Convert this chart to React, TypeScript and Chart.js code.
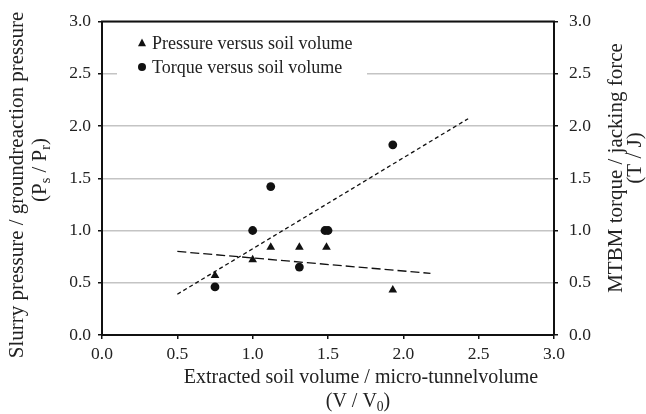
import React, { useEffect, useRef } from "react";
import { Chart, registerables } from "chart.js";

Chart.register(...registerables);

const pressureX = [0.75, 1.0, 1.12, 1.31, 1.49, 1.93];
const pressureY = [0.57, 0.72, 0.84, 0.84, 0.84, 0.43];
const torqueX = [0.75, 1.0, 1.12, 1.31, 1.48, 1.5, 1.93];
const torqueY = [0.46, 1.0, 1.42, 0.65, 1.0, 1.0, 1.82];
const torqueTrendX = [0.5, 2.43];
const torqueTrendY = [0.39, 2.07];
const pressureTrendX = [0.5, 2.18];
const pressureTrendY = [0.8, 0.59];
const axisMin = 0;
const axisMax = 3;
const axisStep = 0.5;
const legendLabels = ["Pressure versus soil volume", "Torque versus soil volume"];

const FONT = "'Liberation Serif', 'DejaVu Serif', serif";
const TEXT = "#222";

type Seg = { t: string; sub?: boolean };

function drawSegs(ctx: CanvasRenderingContext2D, segs: Seg[], size: number, sx: number) {
  const subSize = size * 0.68;
  const widths = segs.map((s) => {
    ctx.font = `${s.sub ? subSize : size}px ${FONT}`;
    return ctx.measureText(s.t).width;
  });
  const total = widths.reduce((a, b) => a + b, 0);
  ctx.scale(sx, 1);
  let x = -total / 2;
  ctx.textBaseline = "middle";
  ctx.textAlign = "left";
  segs.forEach((s, i) => {
    ctx.font = `${s.sub ? subSize : size}px ${FONT}`;
    ctx.fillText(s.t, x, s.sub ? size * 0.28 : 0);
    x += widths[i];
  });
}

function drawText(ctx: CanvasRenderingContext2D, segs: Seg[], cx: number, cy: number, rot: number, size: number, sx = 1) {
  ctx.save();
  ctx.translate(cx, cy);
  ctx.rotate(rot);
  ctx.fillStyle = TEXT;
  drawSegs(ctx, segs, size, sx);
  ctx.restore();
}

const decorPlugin = {
  id: "decor",
  afterDraw(chart: any) {
    const { ctx, chartArea } = chart;
    const a = chartArea;
    ctx.save();
    // top border
    ctx.strokeStyle = "#111";
    ctx.lineWidth = 2;
    ctx.beginPath();
    ctx.moveTo(a.left - 1, a.top);
    ctx.lineTo(a.right + 1, a.top);
    ctx.stroke();

    // legend
    ctx.fillStyle = "#fff";
    ctx.fillRect(117, 30, 250, 50);
    ctx.fillStyle = "#111";
    const tx = 142, ty = 43;
    ctx.beginPath();
    ctx.moveTo(tx, ty - 4.5);
    ctx.lineTo(tx + 4, ty + 3.2);
    ctx.lineTo(tx - 4, ty + 3.2);
    ctx.closePath();
    ctx.fill();
    ctx.beginPath();
    ctx.arc(142, 67, 4, 0, Math.PI * 2);
    ctx.fill();
    ctx.fillStyle = TEXT;
    ctx.font = `18px ${FONT}`;
    ctx.textBaseline = "middle";
    ctx.textAlign = "left";
    ctx.fillText(legendLabels[0], 152, 44);
    ctx.fillText(legendLabels[1], 152, 68);

    // axis titles
    drawText(ctx, [{ t: "Slurry pressure / groundreaction pressure" }], 17, 185, -Math.PI / 2, 21);
    drawText(ctx, [{ t: "(P" }, { t: "s", sub: true }, { t: " / P" }, { t: "r", sub: true }, { t: ")" }], 40, 170, -Math.PI / 2, 21);
    drawText(ctx, [{ t: "MTBM torque / jacking force" }], 616, 168, -Math.PI / 2, 21);
    drawText(ctx, [{ t: "(T / J)" }], 635, 158, -Math.PI / 2, 21);
    drawText(ctx, [{ t: "Extracted soil volume / micro-tunnelvolume" }], 361, 378, 0, 20);
    drawText(ctx, [{ t: "(V / V" }, { t: "0", sub: true }, { t: ")" }], 358, 402, 0, 20);
    ctx.restore();
  },
};

export default function App() {
  const ref = useRef<HTMLCanvasElement>(null);
  useEffect(() => {
    if (!ref.current) return;
    const tickFont = { family: FONT, size: 17.5 };
    const fmt = (v: any) => Number(v).toFixed(1);
    const chart = new Chart(ref.current, {
      type: "scatter",
      data: {
        datasets: [
          {
            label: legendLabels[0],
            data: pressureX.map((x, i) => ({ x, y: pressureY[i] })),
            pointStyle: "triangle",
            radius: 5,
            backgroundColor: "#111",
            borderColor: "#111",
            borderWidth: 0,
          },
          {
            label: legendLabels[1],
            data: torqueX.map((x, i) => ({ x, y: torqueY[i] })),
            pointStyle: "circle",
            radius: 4.4,
            backgroundColor: "#111",
            borderColor: "#111",
            borderWidth: 0,
          },
          {
            type: "line",
            label: "torque trend",
            data: torqueTrendX.map((x, i) => ({ x, y: torqueTrendY[i] })),
            borderColor: "#111",
            borderWidth: 1.3,
            borderDash: [4, 3],
            pointRadius: 0,
            showLine: true,
          } as any,
          {
            type: "line",
            label: "pressure trend",
            data: pressureTrendX.map((x, i) => ({ x, y: pressureTrendY[i] })),
            borderColor: "#111",
            borderWidth: 1.3,
            borderDash: [9, 4],
            pointRadius: 0,
            showLine: true,
          } as any,
        ],
      },
      options: {
        responsive: false,
        animation: false,
        layout: { padding: { top: 20, left: 0, right: 0, bottom: 0 } },
        plugins: { legend: { display: false }, tooltip: { enabled: false } },
        scales: {
          x: {
            type: "linear",
            min: axisMin,
            max: axisMax,
            ticks: { stepSize: axisStep, font: tickFont, color: TEXT, padding: 5, callback: fmt },
            grid: { drawOnChartArea: false, tickColor: "#111", tickLength: 4, lineWidth: 1.5 },
            border: { color: "#111", width: 2 },
            afterFit: (s: any) => { s.height = 79; },
          },
          y: {
            type: "linear",
            position: "left",
            min: axisMin,
            max: axisMax,
            ticks: { stepSize: axisStep, font: tickFont, color: TEXT, padding: 7, callback: fmt },
            grid: { color: "#c4c4c4", lineWidth: 1.5, tickColor: "#111", tickLength: 4 },
            border: { color: "#111", width: 2 },
            afterFit: (s: any) => { s.width = 102; },
          },
          y2: {
            type: "linear",
            position: "right",
            min: axisMin,
            max: axisMax,
            ticks: { stepSize: axisStep, font: tickFont, color: TEXT, padding: 11, callback: fmt },
            grid: { drawOnChartArea: false, tickColor: "#111", tickLength: 4, lineWidth: 1.5 },
            border: { color: "#111", width: 2 },
            afterFit: (s: any) => { s.width = 92; },
          },
        },
      },
      plugins: [decorPlugin],
    });
    return () => chart.destroy();
  }, []);
  return (
    <div style={{ position: "fixed", left: 0, top: 0, width: 646, height: 414, background: "#fff" }}>
      <canvas ref={ref} width={646} height={414} />
    </div>
  );
}
